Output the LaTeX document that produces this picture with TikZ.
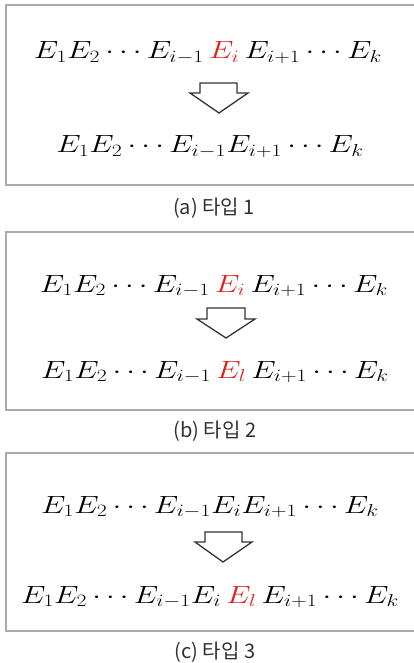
\documentclass[tikz,border=0pt]{standalone}
\usepackage{fontspec}
\usepackage{graphicx}
\usepackage{xcolor}
\usepackage{tikz}
\usetikzlibrary{positioning,calc}
\newfontfamily\kofont{Noto Sans CJK KR}
\definecolor{ERed}{HTML}{E0201F}
\definecolor{BoxGray}{HTML}{ABABAB}
\definecolor{CapText}{HTML}{303030}
\newcommand{\eqrow}[1]{\scalebox{1.25}[1]{$#1$}}
\newcommand{\hl}[1]{{\color{ERed}#1}}
\tikzset{
  framebox/.style={draw=BoxGray,line width=1.4pt},
  eqline/.style={anchor=base,inner sep=0pt,font=\fontsize{23.5}{27}\selectfont},
  caption/.style={anchor=center,inner sep=0pt,text=CapText,font=\kofont\fontsize{20}{24}\selectfont},
  downarrow/.style={draw=black!80,line width=1.3pt,fill=white,line join=miter}}

\begin{document}
\begin{tikzpicture}[x=1pt,y=-1pt]
  \useasboundingbox (0,0) rectangle (413,663);
  % (a) type 1
  \draw[framebox] (6,5) rectangle (420,185);
  \node[eqline] (a1) at (208,59) {\eqrow{E_1E_2\cdots E_{i-1}\,\hl{E_i}\,E_{i+1}\cdots E_k}};
  \node[eqline] (a2) at (210,153) {\eqrow{E_1E_2\cdots E_{i-1}E_{i+1}\cdots E_k}};
  \draw[downarrow] (200,83) -- (237,83) -- (237,93) -- (248,93) -- (219,113)
    -- (190,93) -- (200,93) -- cycle;
  \node[caption] (capA) at (214,208) {(a) 타입 1};
  % (b) type 2
  \draw[framebox] (6,232) rectangle (420,410);
  \node[eqline] (b1) at (214,292) {\eqrow{E_1E_2\cdots E_{i-1}\,\hl{E_i}\,E_{i+1}\cdots E_k}};
  \node[eqline] (b2) at (215,378) {\eqrow{E_1E_2\cdots E_{i-1}\,\hl{E_l}\,E_{i+1}\cdots E_k}};
  \draw[downarrow] (207,308) -- (245,308) -- (245,319) -- (255,319) -- (226,338)
    -- (197,319) -- (207,319) -- cycle;
  \node[caption] (capB) at (215,431) {(b) 타입 2};
  % (c) type 3
  \draw[framebox] (6,453) rectangle (420,631);
  \node[eqline] (c1) at (210,513) {\eqrow{E_1E_2\cdots E_{i-1}E_iE_{i+1}\cdots E_k}};
  \node[eqline] (c2) at (210,603) {\eqrow{E_1E_2\cdots E_{i-1}E_i\,\hl{E_l}\,E_{i+1}\cdots E_k}};
  \draw[downarrow] (205,532) -- (242,532) -- (242,542) -- (252,542) -- (223,562)
    -- (195,542) -- (205,542) -- cycle;
  \node[caption] (capC) at (215,652) {(c) 타입 3};
\end{tikzpicture}
\end{document}
